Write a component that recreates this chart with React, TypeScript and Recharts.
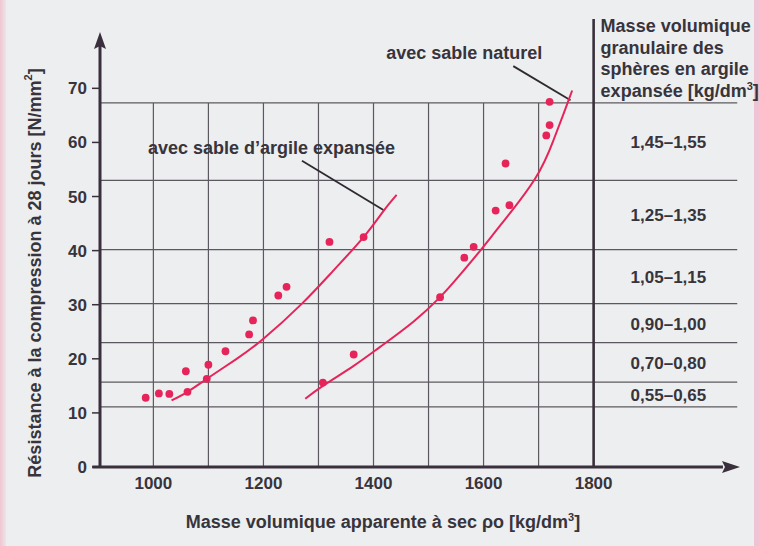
import React from 'react';
import {
  ComposedChart,
  XAxis,
  YAxis,
  Scatter,
  Line,
  ReferenceLine,
  ReferenceArea,
  ReferenceDot,
} from 'recharts';

// ---------- data ----------
const xTicks = [1000, 1200, 1400, 1600, 1800];
const yTicks = [0, 10, 20, 30, 40, 50, 60, 70];
const verticalGrid = [1000, 1100, 1200, 1300, 1400, 1500, 1600, 1700];
const classLimitX = 1800;
const classPanelEndX = 2061;
const classBounds = [11.1, 15.7, 23.0, 30.2, 40.2, 53.0, 67.3];
const classLabels = ['0,55–0,65', '0,70–0,80', '0,90–1,00', '1,05–1,15', '1,25–1,35', '1,45–1,55'];
const classHeader = ['Masse volumique', 'granulaire des', 'sphères en argile', 'expansée [kg/dm'];

const pointsExpanded = [
  { x: 986, y: 12.8 },
  { x: 1010, y: 13.6 },
  { x: 1029, y: 13.5 },
  { x: 1059, y: 17.7 },
  { x: 1062, y: 13.9 },
  { x: 1097, y: 16.3 },
  { x: 1100, y: 18.9 },
  { x: 1131, y: 21.4 },
  { x: 1174, y: 24.5 },
  { x: 1181, y: 27.1 },
  { x: 1227, y: 31.7 },
  { x: 1242, y: 33.3 },
  { x: 1320, y: 41.6 },
  { x: 1382, y: 42.5 },
];

const pointsNatural = [
  { x: 1308, y: 15.6 },
  { x: 1364, y: 20.8 },
  { x: 1521, y: 31.4 },
  { x: 1565, y: 38.7 },
  { x: 1582, y: 40.7 },
  { x: 1622, y: 47.4 },
  { x: 1647, y: 48.4 },
  { x: 1640, y: 56.1 },
  { x: 1714, y: 61.3 },
  { x: 1720, y: 63.2 },
  { x: 1720, y: 67.5 },
];

const curveExpanded = [
  { x: 1033, y: 12.3 },
  { x: 1062, y: 13.9 },
  { x: 1100, y: 16.5 },
  { x: 1150, y: 19.9 },
  { x: 1200, y: 23.7 },
  { x: 1270, y: 30.2 },
  { x: 1327, y: 36.3 },
  { x: 1382, y: 42.5 },
  { x: 1418, y: 47.3 },
  { x: 1442, y: 50.3 },
];

const curveNatural = [
  { x: 1276, y: 12.6 },
  { x: 1308, y: 15.0 },
  { x: 1364, y: 18.7 },
  { x: 1412, y: 22.2 },
  { x: 1473, y: 26.9 },
  { x: 1521, y: 31.4 },
  { x: 1552, y: 34.9 },
  { x: 1594, y: 40.0 },
  { x: 1630, y: 44.6 },
  { x: 1693, y: 53.2 },
  { x: 1727, y: 60.4 },
  { x: 1745, y: 65.2 },
  { x: 1761, y: 69.6 },
];

const labelExpanded = { text: 'avec sable d\u2019argile expansée', x: 990, y: 57.9 };
const leaderExpanded = [{ x: 1270, y: 56.6 }, { x: 1418, y: 47.5 }];
const labelNatural = { text: 'avec sable naturel', x: 1423, y: 75.4 };
const leaderNatural = [{ x: 1654, y: 74.1 }, { x: 1758, y: 67.8 }];

const xDomain = [903, 2066];
const yDomain = [0, 83];
const yArrowTip = 80.4;
const yAxisTop = 78;
const xAxisStart = 889;
const xArrowBase = 2035;
const classLimitTop = 82.8;

// ---------- styles ----------
const FONT = '"Liberation Sans", Arial, sans-serif';
const TEXT = '#37343b';
const PINK = '#e6245a';
const GRID = '#5c5860';
const AXIS = '#3a2f3c';

const YLabel = (props: any) => {
  const vb = props.viewBox || { x: 60, y: 18, width: 40, height: 449 };
  const cx = vb.x - 25;
  const cy = 273;
  return (
    <text
      x={cx}
      y={cy}
      transform={`rotate(-90, ${cx}, ${cy})`}
      textAnchor="middle"
      dominantBaseline="central"
      fontFamily={FONT}
      fontSize={18}
      fontWeight="bold"
      fill={TEXT}
    >
      Résistance à la compression à 28 jours [N/mm
      <tspan fontSize={11} dy={-7}>2</tspan>
      <tspan dy={7}>]</tspan>
    </text>
  );
};

const XLabel = (props: any) => {
  const vb = props.viewBox || { x: 100, y: 467, width: 640, height: 30 };
  return (
    <text
      x={vb.x + 283}
      y={528}
      textAnchor="middle"
      fontFamily={FONT}
      fontSize={18}
      fontWeight="bold"
      fill={TEXT}
    >
      Masse volumique apparente à sec ρo [kg/dm
      <tspan fontSize={11} dy={-7}>3</tspan>
      <tspan dy={7}>]</tspan>
    </text>
  );
};

const bandLabel = (text: string) => (props: any) => {
  const vb = props.viewBox;
  if (!vb) return null;
  return (
    <text
      x={vb.x + vb.width / 2 + 3}
      y={vb.y + vb.height / 2 + 1}
      textAnchor="middle"
      dominantBaseline="central"
      fontFamily={FONT}
      fontSize={17}
      fontWeight="bold"
      fill={TEXT}
    >
      {text}
    </text>
  );
};

export default function App() {
  return (
    <div
      style={{
        position: 'absolute',
        left: 0,
        top: 0,
        width: 759,
        height: 546,
        background: '#edeef0',
        overflow: 'hidden',
      }}
    >
      <div style={{ position: 'absolute', left: 0, top: 0, width: 6, height: 546, background: 'linear-gradient(90deg, #f0c6d2, #ede4e8)' }} />
      <div style={{ position: 'absolute', left: 754, top: 0, width: 5, height: 546, background: '#efc3d3' }} />
      <ComposedChart
        width={759}
        height={546}
        margin={{ top: 18, right: 19, bottom: 49, left: 60 }}
        style={{ position: 'absolute', left: 0, top: 0 }}
      >
        <XAxis
          type="number"
          dataKey="x"
          domain={xDomain}
          ticks={xTicks}
          allowDataOverflow
          height={30}
          axisLine={false}
          tickLine={false}
          tickSize={6}
          tickMargin={4}
          tick={{ fontFamily: FONT, fontSize: 17, fontWeight: 'bold', fill: TEXT }}
          label={XLabel}
        />
        <YAxis
          type="number"
          dataKey="y"
          domain={yDomain}
          ticks={yTicks}
          allowDataOverflow
          width={40}
          axisLine={false}
          tickLine={{ stroke: AXIS, strokeWidth: 1.5 }}
          tickSize={8}
          tickMargin={5}
          tick={{ fontFamily: FONT, fontSize: 17, fontWeight: 'bold', fill: TEXT }}
          label={YLabel}
        />

        {/* grid */}
        {verticalGrid.map((v) => (
          <ReferenceLine
            key={`v${v}`}
            segment={[{ x: v, y: 0 }, { x: v, y: classBounds[classBounds.length - 1] }]}
            stroke={GRID}
            strokeWidth={1.2}
          />
        ))}
        {classBounds.map((b) => (
          <ReferenceLine
            key={`h${b}`}
            segment={[{ x: xDomain[0], y: b }, { x: classPanelEndX, y: b }]}
            stroke={GRID}
            strokeWidth={1.2}
          />
        ))}
        <ReferenceLine
          segment={[{ x: classLimitX, y: 0 }, { x: classLimitX, y: classLimitTop }]}
          stroke={AXIS}
          strokeWidth={2.6}
        />

        {/* class labels */}
        {classLabels.map((t, i) => (
          <ReferenceArea
            key={t}
            x1={classLimitX}
            x2={classPanelEndX}
            y1={classBounds[i]}
            y2={classBounds[i + 1]}
            fill="none"
            stroke="none"
            label={bandLabel(t)}
          />
        ))}

        {/* header of class panel */}
        <ReferenceDot
          x={classLimitX}
          y={yDomain[1]}
          r={0}
          ifOverflow="visible"
          shape={(p: any) => (
            <text
              x={p.cx + 7}
              y={p.cy + 14}
              fontFamily={FONT}
              fontSize={18}
              fontWeight="bold"
              fill={TEXT}
            >
              {classHeader.map((line, i) => (
                <tspan key={i} x={p.cx + 7} y={p.cy + 14 + i * 21.5}>
                  {line}
                  {i === classHeader.length - 1 ? (
                    <>
                      <tspan fontSize={11} dy={-7}>3</tspan>
                      <tspan dy={7}>]</tspan>
                    </>
                  ) : null}
                </tspan>
              ))}
            </text>
          )}
        />

        {/* axes */}
        <ReferenceLine
          segment={[{ x: xDomain[0], y: 0 }, { x: xDomain[0], y: yAxisTop }]}
          stroke={AXIS}
          strokeWidth={3}
          ifOverflow="visible"
        />
        <ReferenceLine
          segment={[{ x: xAxisStart, y: 0 }, { x: xArrowBase, y: 0 }]}
          stroke={AXIS}
          strokeWidth={3}
          ifOverflow="visible"
        />
        <ReferenceDot
          x={xDomain[0]}
          y={yArrowTip}
          r={0}
          ifOverflow="visible"
          shape={(p: any) => (
            <polygon
              points={`${p.cx},${p.cy} ${p.cx - 6},${p.cy + 17} ${p.cx},${p.cy + 14} ${p.cx + 6},${p.cy + 17}`}
              fill={AXIS}
            />
          )}
        />
        <ReferenceDot
          x={xDomain[1]}
          y={0}
          r={0}
          ifOverflow="visible"
          shape={(p: any) => (
            <polygon
              points={`${p.cx},${p.cy} ${p.cx - 18},${p.cy - 6} ${p.cx - 15},${p.cy} ${p.cx - 18},${p.cy + 6}`}
              fill={AXIS}
            />
          )}
        />

        {/* annotations */}
        <ReferenceLine segment={leaderExpanded} stroke="#2e2a30" strokeWidth={1.8} />
        <ReferenceLine segment={leaderNatural} stroke="#2e2a30" strokeWidth={1.8} />
        <ReferenceDot
          x={labelExpanded.x}
          y={labelExpanded.y}
          r={0}
          ifOverflow="visible"
          shape={(p: any) => (
            <text x={p.cx} y={p.cy} fontFamily={FONT} fontSize={18} fontWeight="bold" fill={TEXT}>
              {labelExpanded.text}
            </text>
          )}
        />
        <ReferenceDot
          x={labelNatural.x}
          y={labelNatural.y}
          r={0}
          ifOverflow="visible"
          shape={(p: any) => (
            <text x={p.cx} y={p.cy} fontFamily={FONT} fontSize={18} fontWeight="bold" fill={TEXT}>
              {labelNatural.text}
            </text>
          )}
        />

        {/* curves and points */}
        <Line
          data={curveExpanded}
          dataKey="y"
          type="natural"
          stroke={PINK}
          strokeWidth={2}
          dot={false}
          activeDot={false}
          isAnimationActive={false}
        />
        <Line
          data={curveNatural}
          dataKey="y"
          type="natural"
          stroke={PINK}
          strokeWidth={2}
          dot={false}
          activeDot={false}
          isAnimationActive={false}
        />
        <Scatter
          data={pointsExpanded}
          dataKey="y"
          isAnimationActive={false}
          shape={(p: any) => <circle cx={p.cx} cy={p.cy} r={3.9} fill={PINK} />}
        />
        <Scatter
          data={pointsNatural}
          dataKey="y"
          isAnimationActive={false}
          shape={(p: any) => <circle cx={p.cx} cy={p.cy} r={3.9} fill={PINK} />}
        />
      </ComposedChart>
    </div>
  );
}
